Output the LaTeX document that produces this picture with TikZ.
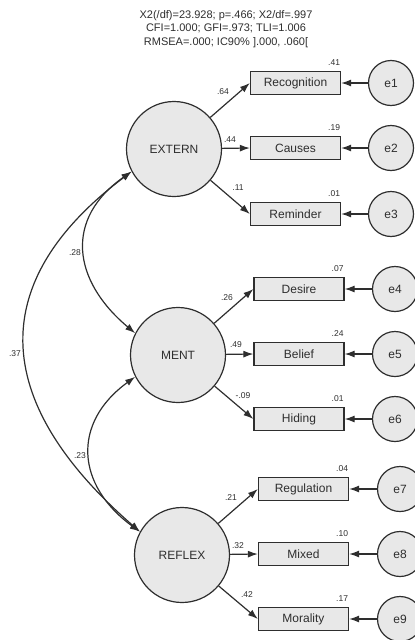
\documentclass[tikz,border=0pt]{standalone}
\usepackage{fontspec}
\setmainfont{Liberation Sans}
\usetikzlibrary{arrows.meta,calc}
\definecolor{ink}{HTML}{2E2E2E}
\definecolor{shade}{HTML}{E8E8E8}
\begin{document}
\begin{tikzpicture}[x=1pt,y=1pt,
  latent/.style={circle,draw=ink,fill=shade,line width=1.2pt,minimum size=95pt,
    inner sep=0pt,font=\fontsize{12}{14}\selectfont,text=ink},
  obs/.style={rectangle,draw=ink,fill=shade,line width=1.3pt,minimum width=90pt,
    minimum height=23pt,inner sep=0pt,font=\fontsize{12}{14}\selectfont,text=ink},
  err/.style={circle,draw=ink,fill=shade,line width=1.2pt,minimum size=45pt,
    inner sep=0pt,font=\fontsize{12}{14}\selectfont,text=ink},
  tip/.tip={Latex[length=10pt,width=7pt]},
  load/.style={draw=ink,line width=1.2pt,-tip},
  cov/.style={draw=ink,line width=1.2pt,tip-tip},
  coef/.style={font=\fontsize{8.5}{10}\selectfont,text=ink,inner sep=0pt},
  fit/.style={font=\fontsize{11}{13.5}\selectfont,text=ink,align=center,inner sep=0pt}
]
\useasboundingbox (0,0) rectangle (415,-640);

% fit statistics
\node[fit] (stats) at (226,-29)
  {X2(/df)=23.928; p=.466; X2/df=.997\\
   CFI=1.000; GFI=.973; TLI=1.006\\
   RMSEA=.000; IC90\% ].000, .060[};

% latent factors
\node[latent] (EXTERN) at (174,-149) {EXTERN};
\node[latent] (MENT)   at (178,-355) {MENT};
\node[latent] (REFLEX) at (182,-555) {REFLEX};

% indicators
\node[obs] (rec) at (295.5,-83)  {Recognition};
\node[obs] (cau) at (295.5,-148) {Causes};
\node[obs] (rem) at (295.5,-214) {Reminder};
\node[obs] (des) at (299,-289)   {Desire};
\node[obs] (bel) at (299,-354)   {Belief};
\node[obs] (hid) at (299,-419)   {Hiding};
\node[obs] (reg) at (303.5,-489) {Regulation};
\node[obs] (mix) at (303.5,-554) {Mixed};
\node[obs] (mor) at (303.5,-619) {Morality};

% residuals
\node[err] (e1) at (391,-83)  {e1};
\node[err] (e2) at (391,-148) {e2};
\node[err] (e3) at (391,-214) {e3};
\node[err] (e4) at (395,-289) {e4};
\node[err] (e5) at (395,-354) {e5};
\node[err] (e6) at (395,-419) {e6};
\node[err] (e7) at (400,-489) {e7};
\node[err] (e8) at (400,-554) {e8};
\node[err] (e9) at (400,-619) {e9};

% loadings
\foreach \f/\v in {EXTERN/rec,EXTERN/cau,EXTERN/rem,MENT/des,MENT/bel,MENT/hid,
                   REFLEX/reg,REFLEX/mix,REFLEX/mor}
  \draw[load] (\f) -- (\v.west);

% residual paths
\foreach \e/\v in {e1/rec,e2/cau,e3/rem,e4/des,e5/bel,e6/hid,e7/reg,e8/mix,e9/mor}
  \draw[load] (\e) -- (\v.east);

% covariances between factors
\draw[cov] (EXTERN.208) to[out=215,in=140,looseness=1.3] (MENT.153);
\draw[cov] (MENT.207) to[out=216,in=144,looseness=1.3] (REFLEX.151);
\draw[cov] (EXTERN.208) to[out=217,in=139,looseness=1.35] (REFLEX.151);

% standardized loadings
\node[coef] (l1) at (223,-92)  {.64};
\node[coef] (l2) at (230,-140) {.44};
\node[coef] (l3) at (238,-188) {.11};
\node[coef] (l4) at (227,-298) {.26};
\node[coef] (l5) at (236,-345) {.49};
\node[coef] (l6) at (243,-396) {-.09};
\node[coef] (l7) at (231,-498) {.21};
\node[coef] (l8) at (238,-546) {.32};
\node[coef] (l9) at (247,-595) {.42};

% correlations
\node[coef] (c1) at (75,-253) {.28};
\node[coef] (c2) at (15,-354) {.37};
\node[coef] (c3) at (80,-456) {.23};

% squared multiple correlations
\foreach \v/\r in {rec/.41,cau/.19,rem/.01,des/.07,bel/.24,hid/.01,reg/.04,mix/.10,mor/.17}
  \node[coef] (r-\v) at ([shift={(-7,8.5)}]\v.north east) {\r};
\end{tikzpicture}
\end{document}
